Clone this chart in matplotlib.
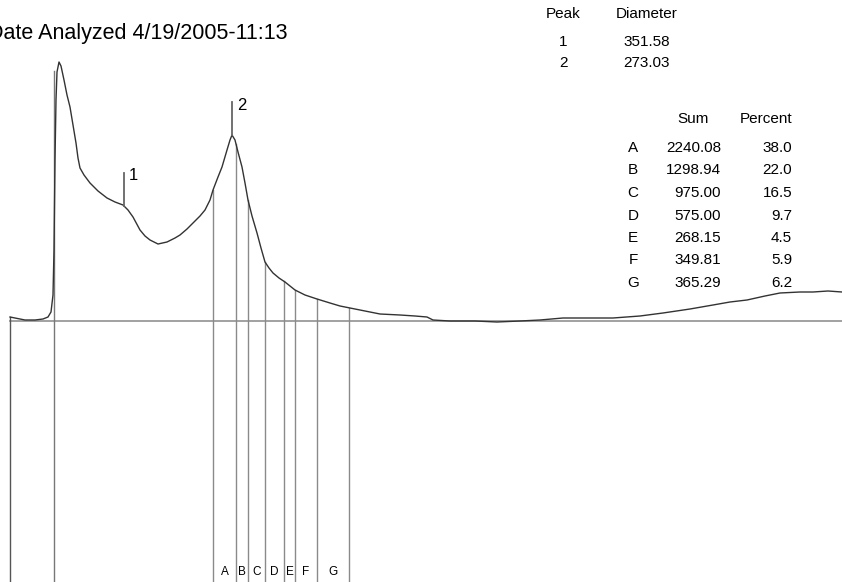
import numpy as np
import matplotlib
matplotlib.use("Agg")
import matplotlib.pyplot as plt

plt.rcParams['font.family'] = ['Liberation Sans', 'DejaVu Sans']

# trace: migration position and signal above baseline
time = [10, 15, 25, 35, 43, 48, 51, 53, 54, 55, 56, 57, 59, 61, 64, 67, 70, 73,
        76, 78, 80, 84, 90, 98, 107, 115, 123, 128, 133, 140, 145, 150, 158,
        167, 175, 180, 187, 193, 200, 205, 210, 213, 218, 222, 227, 230, 232,
        235, 238, 242, 245, 248, 252, 257, 261, 265, 269, 273, 279, 285, 290,
        295, 305, 317, 330, 340, 350, 365, 380, 400, 415, 427, 433, 450, 475,
        497, 520, 540, 563, 590, 613, 640, 663, 690, 713, 730, 747, 765, 780,
        800, 813, 828, 842]
signal = [4, 3, 1, 1, 2, 4, 9, 26, 71, 161, 221, 249, 259, 255, 241, 226, 214,
          196, 178, 163, 153, 146, 138, 130, 123, 119, 116, 111, 104, 91, 85,
          81, 77, 79, 83, 86, 92, 98, 105, 111, 121, 131, 144, 154, 171, 181,
          186, 181, 169, 154, 138, 121, 105, 88, 73, 59, 53, 48, 43, 39, 35,
          31, 26, 22, 18, 15, 13, 10, 7, 6, 5, 4, 1, 0, 0, -1, 0, 1, 3, 3, 3,
          5, 8, 12, 16, 19, 21, 25, 28, 29, 29, 30, 29]

title = "Date Analyzed 4/19/2005-11:13"

peak_ids = ["1", "2"]
peak_diam = ["351.58", "273.03"]
peak_pos = [124, 232]

seg_names = ["A", "B", "C", "D", "E", "F", "G"]
seg_sum = ["2240.08", "1298.94", "975.00", "575.00", "268.15", "349.81", "365.29"]
seg_pct = ["38.0", "22.0", "16.5", "9.7", "4.5", "5.9", "6.2"]
seg_bounds = [213, 236, 248, 265, 284, 295, 317, 349]

start_pos = 54
trace_start = 10

fig = plt.figure(figsize=(8.42, 5.82), dpi=100)
ax = fig.add_axes([0, 0, 1, 1])
ax.set_xlim(0, 842)
ax.set_ylim(-261, 321)
ax.axis("off")

bottom = -261
line_col = "#8a8a8a"

# baseline and left edge
ax.plot([trace_start, 842], [0, 0], color="#9a9a9a", lw=1.3)
ax.plot([trace_start, trace_start], [bottom, signal[0]], color="#555555", lw=1.0)
ax.plot([start_pos, start_pos], [bottom, 250], color="#777777", lw=1.0)

# segment boundaries up to the trace
for b in seg_bounds:
    top = np.interp(b, time, signal)
    ax.plot([b, b], [bottom, top], color=line_col, lw=1.0)

for i, name in enumerate(seg_names):
    mid = (seg_bounds[i] + seg_bounds[i + 1]) / 2
    ax.text(mid, -251, name, fontsize=8.5, ha="center", va="center")

ax.plot(time, signal, color="#333333", lw=1.0)

# peak markers
for pid, p in zip(peak_ids, peak_pos):
    top = np.interp(p, time, signal)
    ax.plot([p, p], [top, top + 33], color="#666666", lw=1.3)
    ax.text(p + 5, top + 30, pid, fontsize=12, ha="left", va="center")

ax.text(-12, 288, title, fontsize=15.5, ha="left", va="center")

# peak table
fs = 11
ax.text(563, 307, "Peak", fontsize=fs, ha="center", va="center")
ax.text(647, 307, "Diameter", fontsize=fs, ha="center", va="center")
for i, (pid, d) in enumerate(zip(peak_ids, peak_diam)):
    y = 279 - 21 * i
    ax.text(563, y, pid, fontsize=fs, ha="center", va="center")
    ax.text(647, y, d, fontsize=fs, ha="center", va="center")

# segment table
ax.text(693, 202, "Sum", fontsize=fs, ha="center", va="center")
ax.text(766, 202, "Percent", fontsize=fs, ha="center", va="center")
for i, (n, s, pc) in enumerate(zip(seg_names, seg_sum, seg_pct)):
    y = 173 - 22.5 * i
    ax.text(633, y, n, fontsize=fs, ha="center", va="center")
    ax.text(721, y, s, fontsize=fs, ha="right", va="center")
    ax.text(792, y, pc, fontsize=fs, ha="right", va="center")

fig.savefig("out.png", dpi=100)
